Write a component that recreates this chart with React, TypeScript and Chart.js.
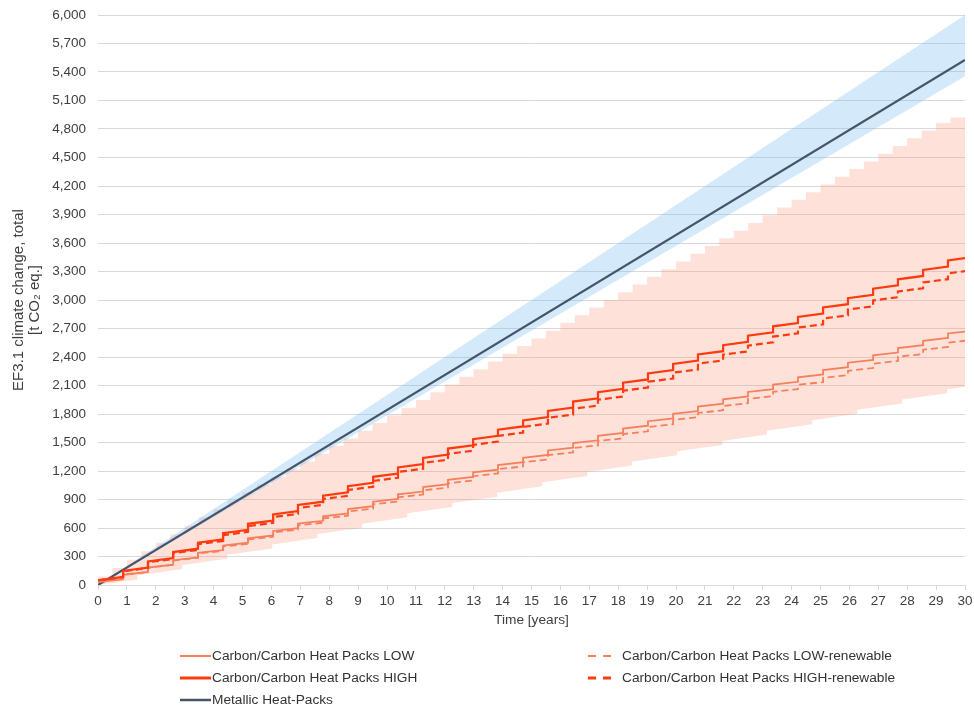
import { useEffect, useRef } from 'react';
import { Chart, registerables } from 'chart.js';

Chart.register(...registerables);

// ---- Data ----
const stepYears = [
  0.87, 1.73, 2.6, 3.46, 4.33, 5.19, 6.06, 6.92, 7.79, 8.65, 9.52, 10.38, 11.25, 12.11, 12.98, 13.84, 14.71,
  15.57, 16.44, 17.3, 18.17, 19.03, 19.9, 20.76, 21.63, 22.49, 23.36, 24.22, 25.09, 25.95, 26.82, 27.68, 28.55, 29.41,
];

const lowStart = 30;
const lowBefore = [
  60, 137, 214, 291, 368, 445, 522, 599, 676, 753, 830, 907, 984, 1061, 1138, 1215, 1292,
  1369, 1446, 1523, 1600, 1677, 1754, 1831, 1908, 1985, 2062, 2139, 2216, 2293, 2370, 2447, 2524, 2601,
];
const lowAfter = [
  107, 184, 261, 338, 415, 492, 569, 646, 723, 800, 877, 954, 1031, 1108, 1185, 1262, 1339,
  1416, 1493, 1570, 1647, 1724, 1801, 1878, 1955, 2032, 2109, 2186, 2263, 2340, 2417, 2494, 2571, 2648,
];
const lowEnd = 2668;

const lowRenewStart = 35;
const lowRenewBefore = [
  64, 138, 212, 286, 360, 434, 508, 582, 656, 730, 804, 878, 952, 1026, 1100, 1174, 1248,
  1322, 1396, 1470, 1544, 1618, 1692, 1766, 1840, 1914, 1988, 2062, 2136, 2210, 2284, 2358, 2432, 2506,
];
const lowRenewAfter = [
  109, 183, 257, 331, 405, 479, 553, 627, 701, 775, 849, 923, 997, 1071, 1145, 1219, 1293,
  1367, 1441, 1515, 1589, 1663, 1737, 1811, 1885, 1959, 2033, 2107, 2181, 2255, 2329, 2403, 2477, 2551,
];
const lowRenewEnd = 2571;

const highStart = 50;
const highBefore = [
  85, 184, 283, 382, 481, 580, 679, 778, 877, 976, 1075, 1174, 1273, 1372, 1471, 1570, 1669,
  1768, 1867, 1966, 2065, 2164, 2263, 2362, 2461, 2560, 2659, 2758, 2857, 2956, 3055, 3154, 3253, 3352,
];
const highAfter = [
  149, 248, 347, 446, 545, 644, 743, 842, 941, 1040, 1139, 1238, 1337, 1436, 1535, 1634, 1733,
  1832, 1931, 2030, 2129, 2228, 2327, 2426, 2525, 2624, 2723, 2822, 2921, 3020, 3119, 3218, 3317, 3416,
];
const highEnd = 3440;

const highRenewStart = 50;
const highRenewBefore = [
  84, 179, 274, 369, 464, 559, 654, 749, 844, 939, 1034, 1129, 1224, 1319, 1414, 1509, 1604,
  1699, 1794, 1889, 1984, 2079, 2174, 2269, 2364, 2459, 2554, 2649, 2744, 2839, 2934, 3029, 3124, 3219,
];
const highRenewAfter = [
  145, 240, 335, 430, 525, 620, 715, 810, 905, 1000, 1095, 1190, 1285, 1380, 1475, 1570, 1665,
  1760, 1855, 1950, 2045, 2140, 2235, 2330, 2425, 2520, 2615, 2710, 2805, 2900, 2995, 3090, 3185, 3280,
];
const highRenewEnd = 3303;

const metallicYears = [0, 30];
const metallicValues = [0, 5526];
const metallicBandUpper = [0, 6000];
const metallicBandLower = [0, 5355];

const ccBandUpperYears = [
  0, 0.5, 1, 1.5, 2, 2.5, 3, 3.5, 4, 4.5, 5, 5.5, 6, 6.5, 7, 7.5, 8, 8.5, 9, 9.5, 10, 10.5, 11, 11.5, 12, 12.5,
  13, 13.5, 14, 14.5, 15, 15.5, 16, 16.5, 17, 17.5, 18, 18.5, 19, 19.5, 20, 20.5, 21, 21.5, 22, 22.5, 23, 23.5,
  24, 24.5, 25, 25.5, 26, 26.5, 27, 27.5, 28, 28.5, 29, 29.5, 30,
];
const ccBandUpper = [
  20, 89, 178, 267, 356, 445, 534, 623, 712, 801, 890, 976, 1057, 1138, 1219, 1300, 1381, 1462, 1543, 1624,
  1705, 1786, 1867, 1948, 2029, 2110, 2191, 2272, 2353, 2434, 2515, 2596, 2677, 2758, 2839, 2920, 3001, 3082,
  3163, 3244, 3325, 3406, 3487, 3568, 3649, 3730, 3811, 3892, 3973, 4054, 4135, 4216, 4297, 4378, 4459, 4540,
  4621, 4702, 4783, 4864, 4920,
];

const ccBandLowerStart = 0;
const ccBandLowerYears = [
  1.36, 2.92, 4.47, 6.03, 7.59, 9.14, 10.7, 12.26, 13.81, 15.37, 16.93, 18.48, 20.04, 21.6, 23.15, 24.71, 26.27, 27.82, 29.38,
];
const ccBandLowerBefore = [
  58, 168, 276, 385, 494, 603, 712, 821, 930, 1039, 1148, 1257, 1366, 1475, 1583, 1693, 1802, 1910, 2019,
];
const ccBandLowerAfter = [
  100, 210, 318, 427, 536, 645, 754, 863, 972, 1081, 1190, 1299, 1408, 1517, 1625, 1735, 1844, 1952, 2061,
];
const ccBandLowerEnd = 2088;

const xMax = 30;
const yMax = 6000;
const yStep = 300;

const seriesNames = [
  'Carbon/Carbon Heat Packs LOW',
  'Carbon/Carbon Heat Packs LOW-renewable',
  'Carbon/Carbon Heat Packs HIGH',
  'Carbon/Carbon Heat Packs HIGH-renewable',
  'Metallic Heat-Packs',
];

// ---- styles ----
const COL_LOW = '#F7805C';
const COL_HIGH = '#FF3A0E';
const COL_MET = '#44546A';
const FONT = '"Liberation Sans", Arial, sans-serif';
const TEXT = '#404040';

function stepped(start: number, years: number[], before: number[], after: number[], end: number) {
  const pts: { x: number; y: number }[] = [{ x: 0, y: start }];
  years.forEach((t, i) => {
    pts.push({ x: t, y: before[i] });
    pts.push({ x: t, y: after[i] });
  });
  pts.push({ x: xMax, y: end });
  return pts;
}

function zip(xs: number[], ys: number[]) {
  return xs.map((x, i) => ({ x, y: ys[i] }));
}

export default function App() {
  const ref = useRef<HTMLCanvasElement | null>(null);

  useEffect(() => {
    if (!ref.current) return;
    const line = (label: string, data: any, color: string, width: number, dash: number[] = []) => ({
      label,
      data,
      borderColor: color,
      backgroundColor: color,
      borderWidth: width,
      borderDash: dash,
      pointRadius: 0,
      fill: false,
      tension: 0,
    });
    const chart = new Chart(ref.current, {
      type: 'line',
      data: {
        datasets: [
          line(seriesNames[2], stepped(highStart, stepYears, highBefore, highAfter, highEnd), COL_HIGH, 2.2),
          line(seriesNames[3], stepped(highRenewStart, stepYears, highRenewBefore, highRenewAfter, highRenewEnd), COL_HIGH, 2.2, [7, 4]),
          line(seriesNames[0], stepped(lowStart, stepYears, lowBefore, lowAfter, lowEnd), COL_LOW, 1.8),
          line(seriesNames[1], stepped(lowRenewStart, stepYears, lowRenewBefore, lowRenewAfter, lowRenewEnd), COL_LOW, 1.8, [7, 4]),
          line(seriesNames[4], zip(metallicYears, metallicValues), COL_MET, 2.2),
          {
            label: 'met-upper',
            data: zip(metallicYears, metallicBandUpper),
            borderWidth: 0,
            borderColor: 'rgba(0,0,0,0)',
            pointRadius: 0,
            fill: '+1',
            backgroundColor: 'rgba(120,190,240,0.32)',
          },
          {
            label: 'met-lower',
            data: zip(metallicYears, metallicBandLower),
            borderWidth: 0,
            borderColor: 'rgba(0,0,0,0)',
            pointRadius: 0,
            fill: false,
          },
          {
            label: 'cc-upper',
            data: zip(ccBandUpperYears, ccBandUpper),
            borderWidth: 0,
            borderColor: 'rgba(0,0,0,0)',
            pointRadius: 0,
            stepped: 'after',
            fill: '+1',
            backgroundColor: 'rgba(250,140,110,0.26)',
          },
          {
            label: 'cc-lower',
            data: stepped(ccBandLowerStart, ccBandLowerYears, ccBandLowerBefore, ccBandLowerAfter, ccBandLowerEnd),
            borderWidth: 0,
            borderColor: 'rgba(0,0,0,0)',
            pointRadius: 0,
            fill: false,
          },
        ] as any,
      },
      options: {
        responsive: false,
        animation: false,
        events: [],
        layout: { padding: { left: 0, right: 9, top: 15, bottom: 75 } },
        plugins: { legend: { display: false }, tooltip: { enabled: false } },
        scales: {
          x: {
            type: 'linear',
            min: 0,
            max: xMax,
            ticks: { stepSize: 1, autoSkip: false, maxRotation: 0, color: TEXT, font: { family: FONT, size: 13.5 }, padding: 3 },
            grid: { drawOnChartArea: false, drawTicks: true, tickLength: 5, color: '#d9d9d9' },
            border: { display: true, color: '#d9d9d9' },
            title: { display: true, text: 'Time [years]', color: TEXT, font: { family: FONT, size: 13.7, lineHeight: 1.2 }, padding: { top: 0, bottom: 7 } },
            afterFit: (s: any) => { s.height = 50; s.paddingRight = 0; s.paddingLeft = 0; },
          },
          y: {
            type: 'linear',
            min: 0,
            max: yMax,
            ticks: {
              stepSize: yStep,
              color: TEXT,
              padding: 12,
              font: { family: FONT, size: 13.5 },
              callback: (v: any) => Number(v).toLocaleString('en-US'),
            },
            grid: { color: '#d9d9d9', drawTicks: false },
            border: { display: false },
            title: {
              display: true,
              text: ['EF3.1 climate change, total', '[t CO\u2082 eq.]'],
              color: TEXT,
              font: { family: FONT, size: 15, lineHeight: 1.07 },
              padding: { top: 11, bottom: 0 },
            },
            afterFit: (s: any) => { s.width = 98; s.paddingTop = 0; s.paddingBottom = 0; },
          },
        },
      } as any,
    });
    return () => chart.destroy();
  }, []);

  const legendLeft = [
    { name: seriesNames[0], color: COL_LOW, w: 2, y: 656 },
    { name: seriesNames[2], color: COL_HIGH, w: 3, y: 678 },
    { name: seriesNames[4], color: COL_MET, w: 2.5, y: 700 },
  ];
  const legendRight = [
    { name: seriesNames[1], color: COL_LOW, w: 2, y: 656 },
    { name: seriesNames[3], color: COL_HIGH, w: 3, y: 678 },
  ];
  const textStyle: any = { position: 'absolute', fontFamily: FONT, fontSize: 13.7, color: '#333', lineHeight: '20px', whiteSpace: 'nowrap' };

  return (
    <div style={{ position: 'fixed', left: 0, top: 0, width: 974, height: 710, background: '#fff', overflow: 'hidden' }}>
      <canvas ref={ref} width={974} height={710} style={{ position: 'absolute', left: 0, top: 0, width: 974, height: 710 }} />
      {legendLeft.map((it) => (
        <div key={it.name}>
          <svg style={{ position: 'absolute', left: 180, top: it.y - 5 }} width={31} height={10}>
            <line x1={0} y1={5} x2={31} y2={5} stroke={it.color} strokeWidth={it.w} />
          </svg>
          <span style={{ ...textStyle, left: 212, top: it.y - 10 }}>{it.name}</span>
        </div>
      ))}
      {legendRight.map((it) => (
        <div key={it.name}>
          <svg style={{ position: 'absolute', left: 588, top: it.y - 5 }} width={24} height={10}>
            <line x1={0} y1={5} x2={24} y2={5} stroke={it.color} strokeWidth={it.w} strokeDasharray="8 7" />
          </svg>
          <span style={{ ...textStyle, left: 622, top: it.y - 10 }}>{it.name}</span>
        </div>
      ))}
    </div>
  );
}
